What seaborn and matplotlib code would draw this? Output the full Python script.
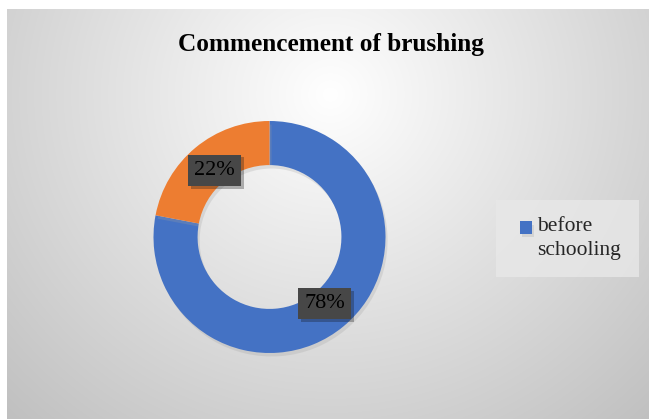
import numpy as np
import matplotlib
matplotlib.use("Agg")
import matplotlib.pyplot as plt
import matplotlib.patheffects as pe
from matplotlib.patches import Rectangle
from matplotlib.legend_handler import HandlerPatch
import seaborn as sns

# ---- data ----
categories = ["before schooling", "after schooling"]
values = [78, 22]
colors = ["#4472C4", "#ED7D31"]
title = "Commencement of brushing"

sns.set_style("white")
plt.rcParams["font.family"] = ["Liberation Serif", "DejaVu Serif"]

W, H = 649, 419
fig = plt.figure(figsize=(W / 100, H / 100), dpi=100)
fig.patch.set_facecolor("white")

# background gradient panel
bx0, by0, bx1, by1 = 7, 9, 649, 419  # pixel coords from top-left
bg = fig.add_axes([bx0 / W, 1 - by1 / H, (bx1 - bx0) / W, (by1 - by0) / H])
yy, xx = np.mgrid[by0:by1, bx0:bx1]
d = np.hypot(xx - 330, (yy - 95) * 1.05)
g = np.clip(255 - 0.135 * d, 190, 255) / 255.0
bg.imshow(np.dstack([g, g, g]), aspect="auto", extent=[0, 1, 0, 1])
bg.set_axis_off()

# donut axes
cx, cy, r = 269.5, 237, 116
ax = fig.add_axes([(cx - r) / W, (H - cy - r) / H, 2 * r / W, 2 * r / H])
ax.set_facecolor("none")
wedges, texts, autotexts = ax.pie(
    values,
    colors=colors,
    startangle=90,
    counterclock=False,
    radius=1.0,
    wedgeprops=dict(width=0.38, edgecolor="none"),
    autopct="%1.0f%%",
    pctdistance=0.745,
    textprops=dict(fontsize=16, color="black"),
)
for wdg in wedges:
    wdg.set_path_effects([pe.SimplePatchShadow(offset=(1.5, -2.5), shadow_rgbFace="#a0a0a0", alpha=0.25), pe.Normal()])
for t in autotexts:
    t.set_bbox(dict(boxstyle="square,pad=0.28", facecolor="#474747", edgecolor="none"))
    t.get_bbox_patch().set_path_effects([pe.SimplePatchShadow(offset=(2, -2), alpha=0.3), pe.Normal()])
ax.set_xlim(-1, 1)
ax.set_ylim(-1, 1)
ax.set_axis_off()

# title
fig.text(331 / W, 1 - 45 / H, title, ha="center", va="center",
         fontsize=18.2, fontweight="bold", color="black")


def square_right(legend, orig_handle, xdescent, ydescent, width, height, fontsize):
    s = height
    return Rectangle((-xdescent + width - s, -ydescent - 3.0), s, s)


# legend (only first entry visible)
leg = fig.legend(
    handles=[wedges[0]],
    labels=["before\nschooling"],
    loc="upper left",
    bbox_to_anchor=(496 / W, 1 - 200 / H),
    fontsize=15.5,
    frameon=True,
    fancybox=False,
    handlelength=0.88,
    handleheight=0.5,
    handletextpad=0.25,
    borderpad=0.8,
    borderaxespad=0,
    labelspacing=0.2,
    handler_map={wedges[0]: HandlerPatch(patch_func=square_right)},
)
leg.get_frame().set_facecolor("#e8e8e8")
leg.get_frame().set_edgecolor("none")
leg.get_frame().set_alpha(0.8)
for txt in leg.get_texts():
    txt.set_linespacing(1.35)
try:
    entry = leg._legend_handle_box.get_children()[0].get_children()[0]
    entry.align = "top"
except Exception:
    pass

fig.savefig("out.png", dpi=100)
